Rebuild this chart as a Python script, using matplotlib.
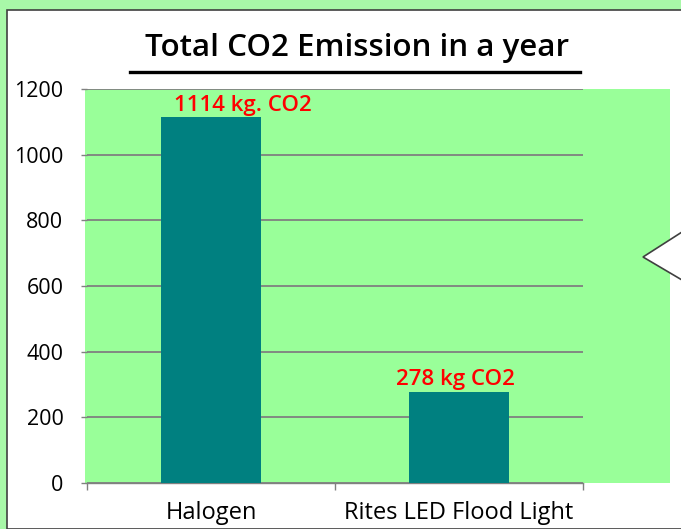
import matplotlib.pyplot as plt
from matplotlib.patches import Rectangle, Polygon
from matplotlib.lines import Line2D

categories = ['Halogen', 'Rites LED Flood Light']
emissions = [1114, 278]
value_labels = ['1114 kg. CO2', '278 kg CO2']
y_ticks = [0, 200, 400, 600, 800, 1000, 1200]

W, H = 681, 529
plt.rcParams['font.family'] = ['Open Sans', 'DejaVu Sans']

fig = plt.figure(figsize=(W / 100, H / 100), dpi=100, facecolor='#a8f8a8')


def fx(px):
    return px / W


def fy(py):
    return 1 - py / H


# white chart area with dark border
fig.add_artist(Rectangle((fx(7), 0), 1, fy(10), facecolor='white',
                         edgecolor='#404040', linewidth=1.2, zorder=-2))
# green plot area (wider than the category axis, as in the original)
fig.add_artist(Rectangle((fx(85), fy(483)), fx(670) - fx(85), fy(89) - fy(483),
                         facecolor='#99ff99', edgecolor='none', zorder=-1))

ax = fig.add_axes([fx(87), fy(483), fx(583) - fx(87), fy(89) - fy(483)])
ax.set_facecolor('none')

x = range(len(categories))
bars = ax.bar(x, emissions, width=0.4, color='#008080', zorder=3)

ax.set_xlim(-0.5, 1.5)
ax.set_ylim(0, 1200)
ax.set_yticks(y_ticks)
ax.yaxis.grid(True, color='#808080', linewidth=1.3)
ax.set_axisbelow(True)

for s in ['top', 'right', 'left']:
    ax.spines[s].set_visible(False)
ax.spines['bottom'].set_color('#808080')
ax.spines['bottom'].set_linewidth(1.0)

ax.set_xticks(list(x))
ax.set_xticklabels(categories)
ax.set_xticks([-0.5, 0.5, 1.5], minor=True)
ax.tick_params(axis='x', which='major', length=0, pad=13, labelsize=17)
ax.tick_params(axis='x', which='minor', length=5, color='#808080', width=1)
ax.tick_params(axis='y', length=4, color='#808080', width=1, pad=13, labelsize=15.5)

# red value labels above bars
nudges = [32, -4]
for b, lab, dx in zip(bars, value_labels, nudges):
    ax.annotate(lab, (b.get_x() + b.get_width() / 2, b.get_height()),
                xytext=(dx * 0.72, 1), textcoords='offset points',
                ha='center', va='bottom', color='#ff0000', fontsize=16,
                fontweight='semibold', zorder=4)

# title with underline
fig.text(fx(357), fy(48), 'Total CO2 Emission in a year', ha='center', va='center',
         fontsize=22.5, fontweight='semibold', color='black')
fig.add_artist(Line2D([fx(130), fx(580)], [fy(72), fy(72)], color='black', linewidth=2.4))

# callout pointer on the right edge
fig.add_artist(Polygon([(fx(682), fy(232)), (fx(643), fy(257)), (fx(682), fy(280))],
                       closed=False, facecolor='white', edgecolor='#404040',
                       linewidth=1.2, zorder=5))

fig.savefig('out.png', dpi=100, facecolor=fig.get_facecolor())
